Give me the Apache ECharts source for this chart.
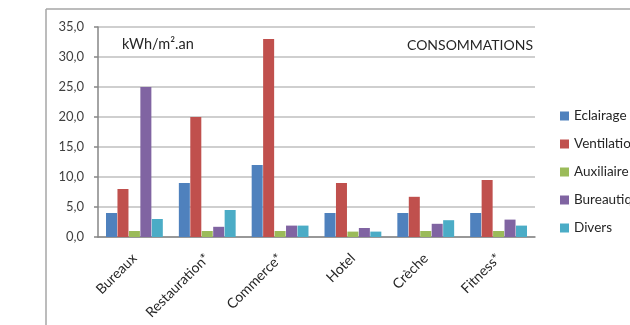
<!DOCTYPE html>
<html>
<head>
<meta charset="utf-8">
<script src="https://cdn.jsdelivr.net/npm/echarts@6/dist/echarts.min.js"></script>
<style>
  html, body { margin: 0; padding: 0; background: #fff; }
  #chart { width: 630px; height: 325px; }
</style>
</head>
<body>
<div id="chart"></div>
<script>
// consommations par usage
const categories = ['Bureaux', 'Restauration*', 'Commerce*', 'Hotel', 'Crèche', 'Fitness*']
const seriesNames = ['Eclairage', 'Ventilation', 'Auxiliaire', 'Bureautique', 'Divers']
const eclairage = [4, 9, 12, 4, 4, 4]
const ventilation = [8, 20, 33, 9, 6.7, 9.5]
const auxiliaire = [1, 1, 1, 0.9, 1, 1]
const bureautique = [25, 1.7, 1.9, 1.5, 2.2, 2.9]
const divers = [3, 4.5, 1.9, 0.9, 2.8, 1.9]
const colors = ['#4F81BD', '#C0504D', '#9BBB59', '#8064A2', '#4BACC6']

const values = [eclairage, ventilation, auxiliaire, bureautique, divers]
const font = 'Lato, "Open Sans", sans-serif'

const myChart = echarts.init(document.getElementById('chart'))
const option = {
  animation: false,
  color: colors,
  textStyle: { fontFamily: font },
  title: [
    {
      text: 'kWh/m².an',
      left: 117,
      top: 32,
      textStyle: { fontSize: 14.5, fontWeight: 'normal', color: '#262626', fontFamily: font },
    },
    {
      text: 'CONSOMMATIONS',
      right: 92,
      top: 33,
      textStyle: { fontSize: 14, fontWeight: 'normal', color: '#262626', fontFamily: font },
    },
  ],
  graphic: [
    // cadre du graphique (haut + gauche)
    { type: 'line', shape: { x1: 46, y1: 9, x2: 630, y2: 9 }, style: { stroke: '#a6a6a6', lineWidth: 1.5 } },
    { type: 'line', shape: { x1: 46, y1: 9, x2: 46, y2: 325 }, style: { stroke: '#a6a6a6', lineWidth: 1.5 } },
  ],
  legend: {
    orient: 'vertical',
    left: 555,
    top: 104,
    itemWidth: 9,
    itemHeight: 9,
    itemGap: 14,
    icon: 'rect',
    textStyle: { fontSize: 13.5, color: '#262626', fontFamily: font },
  },
  grid: { left: 98, right: 95, top: 27, bottom: 88 },
  xAxis: {
    type: 'category',
    data: categories,
    axisLine: { lineStyle: { color: '#868686', width: 1.5 } },
    axisTick: { length: 5, lineStyle: { color: '#868686', width: 1.5 } },
    axisLabel: { rotate: 45, margin: 19, fontSize: 14, color: '#262626', fontFamily: font },
  },
  yAxis: {
    type: 'value',
    min: 0,
    max: 35,
    interval: 5,
    axisLine: { show: true, lineStyle: { color: '#868686', width: 1.5 } },
    axisTick: { show: true, length: 4, lineStyle: { color: '#868686', width: 1.5 } },
    splitLine: { lineStyle: { color: '#bfbfbf', width: 1.5 } },
    axisLabel: {
      margin: 14,
      fontSize: 13,
      color: '#404040',
      fontFamily: font,
      formatter: function (value) {
        return value.toFixed(1).replace('.', ',')
      },
    },
  },
  series: seriesNames.map(function (name, i) {
    return {
      name: name,
      type: 'bar',
      data: values[i],
      barGap: '4%',
      barCategoryGap: '22%',
    }
  }),
}

option && myChart.setOption(option)
</script>
</body>
</html>
